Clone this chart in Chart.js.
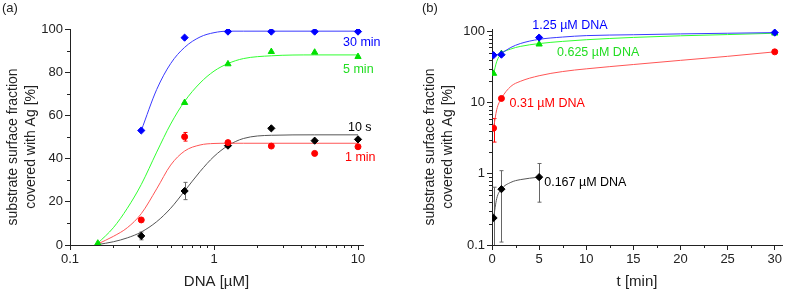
<!DOCTYPE html>
<html>
<head>
<meta charset="utf-8">
<script src="https://cdn.jsdelivr.net/npm/chart.js@4.4.1/dist/chart.umd.min.js"></script>
<style>
  body { margin: 0; background: #fff; }
  #wrap { position: relative; width: 787px; height: 291px; }
  canvas { position: absolute; top: 0; }
</style>
</head>
<body>
<div id="wrap">
  <canvas id="panelA" width="395" height="291" style="left:0"></canvas>
  <canvas id="panelB" width="392" height="291" style="left:395px"></canvas>
</div>
<script>
// ---- panel (a): coverage vs DNA concentration ----
const dnaConc   = [0.156, 0.3125, 0.625, 1.25, 2.5, 5, 10];
const meas30min = [null, 53, 96, 98.8, 98.8, 98.8, 98.8];
const meas5min  = [0.8, null, 65.9, 83.8, 89.5, 89.2, 87.2];
const meas1min  = [null, 11.6, 50.1, 47.4, 45.8, 42.4, 45.5];
const meas10s   = [null, 4.2, 25, 46, 54, 48.3, 48.9];
const err1min   = [0, 0, 2, 0, 0, 0, 0];
const err10s    = [0, 1.8, 4, 0, 0, 0, 0];

// fitted curves
const fitConc  = [0.156, 0.2, 0.25, 0.3125, 0.4, 0.5, 0.625, 0.8, 1, 1.25, 1.6, 2.5, 5, 10];
const fit30min = [null, null, null, 53, 72, 84, 91.5, 96.3, 98.3, 99, 99, 99, 99, 99];
const fit5min  = [0.8, 8, 17, 28, 43, 56, 66.5, 75, 80.5, 84, 86.3, 87.6, 88, 88];
const fit1min  = [0.5, 4, 8, 14.5, 26, 37, 43.5, 46.3, 47, 47.1, 47.1, 47.1, 47.1, 47.1];
const fit10s   = [0.2, 1.5, 3.3, 6, 10.8, 17, 25, 34, 41, 46, 49.3, 50.8, 51, 51];

const concTicks  = [0.1, 1, 10];
const concMinor  = [0.2, 0.3, 0.4, 0.5, 0.6, 0.7, 0.8, 0.9, 2, 3, 4, 5, 6, 7, 8, 9];
const coverTicks = [0, 20, 40, 60, 80, 100];
const coverMinor = [10, 30, 50, 70, 90];

// ---- panel (b): coverage vs time ----
const times     = [0.167, 1, 5, 30];
const meas125   = [46.7, 47.5, 82.6, 97];
const meas0625  = [25.8, 49, 66.6, 95];
const meas031   = [4.4, 11.5, null, 52];
const meas0167  = [0.24, 0.61, 0.9, null];
const err031    = [1.6, 0, 0, 0];
const err0167   = [0.41, 0.5, 0.5, 0];

const fitTime   = [0.167, 0.5, 1, 2, 3, 5, 7.5, 10, 15, 20, 25, 30];
const fit125    = [46.5, 47.5, 50, 60, 68, 78, 84, 88, 90.5, 93, 95, 97];
const fit0625   = [25.5, 38, 49, 57, 62, 68, 73, 77, 83, 87.5, 91, 95];
const fit031    = [4.4, 8, 11.5, 17, 20, 24, 27.5, 30, 34.5, 39.5, 45, 52];
const fitTime0167 = [0.167, 0.5, 1, 2, 3, 5];
const fit0167   = [0.24, 0.45, 0.61, 0.76, 0.83, 0.9];

const timeTicks  = [0, 5, 10, 15, 20, 25, 30];
const timeMinor  = [2.5, 7.5, 12.5, 17.5, 22.5, 27.5];
const logTicks   = [0.1, 1, 10, 100];
const logMinor   = [0.2, 0.3, 0.4, 0.5, 0.6, 0.7, 0.8, 0.9, 2, 3, 4, 5, 6, 7, 8, 9,
                    20, 30, 40, 50, 60, 70, 80, 90];

const FONT = 'Arial, "Liberation Sans", sans-serif';
const TEXT = '#222';
const AXIS = '#222';
const BLUE = '#0000ff', GREEN = '#00e000', RED = '#ff0000', BLACK = '#000000';

Chart.defaults.font.family = FONT;
Chart.defaults.font.size = 13;
Chart.defaults.color = TEXT;

function pts(xs, ys) {
  return xs.map((x, i) => ({ x, y: ys[i] })).filter(p => p.y !== null);
}

function markers(xs, ys, color, style) {
  return {
    data: pts(xs, ys), showLine: false, order: 0,
    pointStyle: style, pointRadius: style === 'circle' ? 3 : 3.6,
    backgroundColor: color, borderColor: color, borderWidth: 1
  };
}

function curve(xs, ys, color) {
  return {
    data: pts(xs, ys), showLine: true, order: 1, pointRadius: 0,
    borderColor: color, borderWidth: 1, cubicInterpolationMode: 'monotone', fill: false
  };
}

// error bars, minor ticks, labels, y title and panel letter
function decorations(cfg) {
  return {
    id: 'decor',
    beforeDatasetsDraw(chart) {
      const { ctx, chartArea: a, scales: { x, y } } = chart;
      ctx.save();
      ctx.beginPath();
      ctx.rect(a.left, a.top - 5, a.right - a.left, a.bottom - a.top + 5);
      ctx.clip();
      ctx.lineWidth = 1;
      for (const e of cfg.errors) {
        ctx.strokeStyle = e.color;
        e.x.forEach((xv, i) => {
          if (!e.err[i] || e.y[i] === null) return;
          const px = Math.round(x.getPixelForValue(xv)) + 0.5;
          const hi = y.getPixelForValue(e.y[i] + e.err[i]);
          const lowVal = e.y[i] - e.err[i];
          const clipped = lowVal <= y.min;
          const lo = clipped ? a.bottom : y.getPixelForValue(lowVal);
          ctx.beginPath();
          ctx.moveTo(px, lo); ctx.lineTo(px, hi);
          ctx.moveTo(px - 2, hi); ctx.lineTo(px + 2, hi);
          if (!clipped) { ctx.moveTo(px - 2, lo); ctx.lineTo(px + 2, lo); }
          ctx.stroke();
        });
      }
      ctx.restore();
    },
    afterDraw(chart) {
      const { ctx, chartArea: a, scales: { x, y } } = chart;
      ctx.save();
      ctx.strokeStyle = AXIS;
      ctx.lineWidth = 1;
      ctx.beginPath();
      cfg.minorX.forEach(v => {
        const px = Math.round(x.getPixelForValue(v)) + 0.5;
        ctx.moveTo(px, a.bottom); ctx.lineTo(px, a.bottom + 3);
      });
      cfg.minorY.forEach(v => {
        const py = Math.round(y.getPixelForValue(v)) + 0.5;
        ctx.moveTo(a.left - 3, py); ctx.lineTo(a.left, py);
      });
      ctx.stroke();

      ctx.font = '12.5px ' + FONT;
      ctx.textAlign = 'left';
      ctx.textBaseline = 'middle';
      cfg.notes.forEach(n => {
        ctx.fillStyle = n.color;
        ctx.fillText(n.text, x.getPixelForValue(n.x), y.getPixelForValue(n.y));
      });

      ctx.fillStyle = TEXT;
      ctx.font = '13px ' + FONT;
      ctx.fillText(cfg.letter, cfg.letterX, 8);

      ctx.font = '14px ' + FONT;
      ctx.textAlign = 'center';
      cfg.yTitle.forEach((line, i) => {
        ctx.save();
        ctx.translate(cfg.yTitleX + i * 18, 147);
        ctx.rotate(-Math.PI / 2);
        ctx.fillText(line, 0, 0);
        ctx.restore();
      });
      ctx.restore();
    }
  };
}

const yTitle = ['substrate surface fraction', 'covered with Ag [%]'];

function axis(extra, tickVals) {
  return Object.assign({
    afterBuildTicks: s => { s.ticks = tickVals.map(v => ({ value: v })); },
    ticks: { callback: v => String(v), padding: 2, maxRotation: 0, autoSkip: false, color: TEXT },
    grid: { drawOnChartArea: false, tickLength: 5, color: AXIS },
    border: { color: AXIS }
  }, extra);
}

const common = {
  responsive: false,
  animation: false,
  events: [],
  plugins: { legend: { display: false }, tooltip: { enabled: false } }
};

new Chart(document.getElementById('panelA'), {
  type: 'scatter',
  data: {
    datasets: [
      markers(dnaConc, meas30min, BLUE, 'rectRot'),
      markers(dnaConc, meas1min, RED, 'circle'),
      markers(dnaConc, meas10s, BLACK, 'rectRot'),
      markers(dnaConc, meas5min, GREEN, 'triangle'),
      curve(fitConc, fit30min, '#3a3aff'),
      curve(fitConc, fit5min, '#30ff30'),
      curve(fitConc, fit1min, '#ff5555'),
      curve(fitConc, fit10s, '#555555')
    ]
  },
  options: Object.assign({}, common, {
    layout: { padding: { left: 0, top: 29, right: 32, bottom: 0 } },
    scales: {
      x: axis({
        type: 'logarithmic', min: 0.1, max: 10.83,
        afterFit: s => { s.height = 46; },
        title: { display: true, text: 'DNA [µM]', font: { size: 15 }, padding: 0, color: TEXT }
      }, concTicks),
      y: axis({
        type: 'linear', min: 0, max: 100,
        afterFit: s => { s.width = 70; }
      }, coverTicks)
    }
  }),
  plugins: [decorations({
    errors: [
      { x: dnaConc, y: meas1min, err: err1min, color: RED },
      { x: dnaConc, y: meas10s, err: err10s, color: '#666' }
    ],
    minorX: concMinor, minorY: coverMinor,
    notes: [
      { text: '30 min', x: 7.87, y: 93.5, color: BLUE },
      { text: '5 min', x: 7.87, y: 81, color: '#22dd22' },
      { text: '10 s', x: 8.52, y: 54.6, color: BLACK },
      { text: '1 min', x: 8.12, y: 40.7, color: RED }
    ],
    letter: '(a)', letterX: 2,
    yTitle: yTitle, yTitleX: 13
  })]
});

new Chart(document.getElementById('panelB'), {
  type: 'scatter',
  data: {
    datasets: [
      markers(times, meas125, BLUE, 'rectRot'),
      markers(times, meas0625, GREEN, 'triangle'),
      markers(times, meas031, RED, 'circle'),
      markers(times, meas0167, BLACK, 'rectRot'),
      curve(fitTime, fit125, '#3a3aff'),
      curve(fitTime, fit0625, '#30ff30'),
      curve(fitTime, fit031, '#ff5555'),
      curve(fitTime0167, fit0167, '#555555')
    ]
  },
  options: Object.assign({}, common, {
    layout: { padding: { left: 0, top: 29, right: 2, bottom: 0 } },
    scales: {
      x: axis({
        type: 'linear', min: 0, max: 30.77,
        afterFit: s => { s.height = 46; },
        title: { display: true, text: 't [min]', font: { size: 15 }, padding: 0, color: TEXT }
      }, timeTicks),
      y: axis({
        type: 'logarithmic', min: 0.1, max: 109,
        afterFit: s => { s.width = 97; }
      }, logTicks)
    }
  }),
  plugins: [decorations({
    errors: [
      { x: times, y: meas031, err: err031, color: RED },
      { x: times, y: meas0167, err: err0167, color: '#666' }
    ],
    minorX: timeMinor, minorY: logMinor,
    notes: [
      { text: '1.25 µM DNA', x: 4.28, y: 123, color: BLUE },
      { text: '0.625 µM DNA', x: 6.9, y: 51.4, color: '#22dd22' },
      { text: '0.31 µM DNA', x: 1.86, y: 9.6, color: RED },
      { text: '0.167 µM DNA', x: 5.54, y: 0.748, color: BLACK }
    ],
    letter: '(b)', letterX: 27,
    yTitle: yTitle, yTitleX: 35
  })]
});
</script>
</body>
</html>
